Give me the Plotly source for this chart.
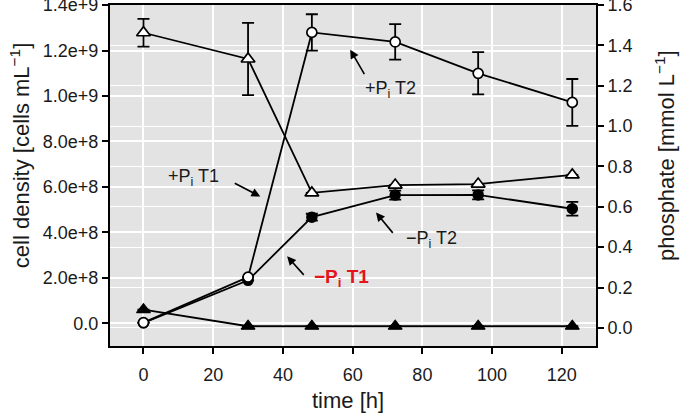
import plotly.graph_objects as go

# ---- data ----
time_h = [0, 30, 48.3, 72.2, 96, 123]

# cell density (cells/mL), left axis
cells_plus = [3e6, 2.03e8, 1.28e9, 1.238e9, 1.10e9, 0.972e9]
cells_plus_err = [0, 0, 0.08e9, 0.078e9, 0.093e9, 0.103e9]
cells_minus = [2e6, 1.89e8, 4.67e8, 5.64e8, 5.65e8, 5.04e8]
cells_minus_err = [0, 0, 0.015e9, 0.02e9, 0.02e9, 0.03e9]

# phosphate (mmol/L), right axis
phos_plus = [1.463, 1.333, 0.669, 0.708, 0.713, 0.758]
phos_plus_err = [0.069, 0.179, 0, 0, 0, 0]
phos_minus = [0.09, 0.008, 0.008, 0.008, 0.008, 0.008]
phos_minus_err = [0, 0, 0, 0, 0, 0]

left_tickvals = [0, 2e8, 4e8, 6e8, 8e8, 1e9, 1.2e9, 1.4e9]
left_ticktext = ["0.0", "2.0e+8", "4.0e+8", "6.0e+8", "8.0e+8", "1.0e+9", "1.2e+9", "1.4e+9"]
right_tickvals = [0, 0.2, 0.4, 0.6, 0.8, 1.0, 1.2, 1.4, 1.6]
x_tickvals = [0, 20, 40, 60, 80, 100, 120]

FONT = "Liberation Sans, Arial, Helvetica, sans-serif"
TXT = "#1a1a1a"
LW = 1.8

def err(arr):
    return dict(type="data", array=arr, visible=True, color="black",
                thickness=1.8, width=6)

fig = go.Figure()
fig.add_trace(go.Scatter(x=time_h, y=cells_minus, mode="lines+markers",
                         line=dict(color="black", width=LW),
                         marker=dict(symbol="circle", size=10, color="black",
                                     line=dict(color="black", width=1.5)),
                         error_y=err(cells_minus_err), yaxis="y", showlegend=False))
fig.add_trace(go.Scatter(x=time_h, y=cells_plus, mode="lines+markers",
                         line=dict(color="black", width=LW),
                         marker=dict(symbol="circle", size=10, color="white",
                                     line=dict(color="black", width=1.7)),
                         error_y=err(cells_plus_err), yaxis="y", showlegend=False))
fig.add_trace(go.Scatter(x=time_h, y=phos_minus, mode="lines+markers",
                         line=dict(color="black", width=LW),
                         marker=dict(symbol="triangle-up", size=12, color="black",
                                     line=dict(color="black", width=1.2)),
                         error_y=err(phos_minus_err), yaxis="y2", showlegend=False))
fig.add_trace(go.Scatter(x=time_h, y=phos_plus, mode="lines+markers",
                         line=dict(color="black", width=LW),
                         marker=dict(symbol="triangle-up", size=12, color="white",
                                     line=dict(color="black", width=1.7)),
                         error_y=err(phos_plus_err), yaxis="y2", showlegend=False))

ann_font = dict(family=FONT, size=18, color=TXT)
labels = [
    # text, text_x, text_y, tip_x, tip_y, ax, ay, font
    ("+P<sub>i</sub> T1", 14.4, 0.642e9, 33.5, 0.558e9, -27, -14, ann_font),
    ("+P<sub>i</sub> T2", 70.9, 1.029e9, 59.3, 1.204e9, 15, 26, ann_font),
    ("\u2212P<sub>i</sub> T2", 82.6, 0.369e9, 66.7, 0.488e9, 18, 22, ann_font),
    ("<b>\u2212P<sub>i</sub> T1</b>", 56.8, 0.198e9, 41.2, 0.2945e9, 18, 20,
     dict(family=FONT, size=19, color="#e3141b")),
]
annotations = []
for text, tx, ty, px, py, ax, ay, f in labels:
    annotations.append(dict(x=tx, y=ty, xref="x", yref="y", text=text,
                            xanchor="center", yanchor="middle",
                            showarrow=False, font=f))
    annotations.append(dict(x=px, y=py, xref="x", yref="y", text="",
                            showarrow=True, ax=ax, ay=ay, arrowhead=2,
                            arrowsize=1.1, arrowwidth=1.6, arrowcolor="black"))

annotations += [
    dict(x=-0.185, y=0.557, xref="paper", yref="paper", textangle=-90,
         xanchor="center", yanchor="middle",
         text="cell density [cells mL<sup>\u22121</sup>]", showarrow=False,
         font=dict(family=FONT, size=22, color=TXT)),
    dict(x=1.142, y=0.557, xref="paper", yref="paper", textangle=-90,
         xanchor="center", yanchor="middle",
         text="phosphate [mmol L<sup>\u22121</sup>]", showarrow=False,
         font=dict(family=FONT, size=22, color=TXT)),
    dict(x=0.49, y=-0.161, xref="paper", yref="paper",
         xanchor="center", yanchor="middle",
         text="time [h]", showarrow=False,
         font=dict(family=FONT, size=22, color=TXT)),
]

axis_common = dict(showgrid=True, gridcolor="white", zeroline=False,
                   showline=True, linecolor="black", linewidth=2,
                   ticks="outside", ticklen=6, tickwidth=1.5, tickcolor="black",
                   tickfont=dict(size=18), automargin=False,
                   ticklabeloverflow="allow")

fig.update_layout(
    width=680, height=415,
    margin=dict(l=110, r=84, t=5, b=69),
    paper_bgcolor="white", plot_bgcolor="#e3e3e3",
    font=dict(family=FONT, size=18, color=TXT),
    xaxis=dict(range=[-9.6, 129.8], tickvals=x_tickvals, gridwidth=1.5,
               mirror=True, ticklabelstandoff=5, **axis_common),
    yaxis=dict(range=[-1e8, 1.4006e9], tickvals=left_tickvals, ticktext=left_ticktext,
               gridwidth=1.5, **axis_common),
    yaxis2=dict(range=[-0.09, 1.6006], tickvals=right_tickvals, tickformat=".1f",
                overlaying="y", side="right", gridwidth=1.2, **axis_common),
    annotations=annotations,
)

fig.write_html("out.html", config={"displayModeBar": False},
               post_script="document.body.style.margin='0';document.body.style.overflow='hidden';")
